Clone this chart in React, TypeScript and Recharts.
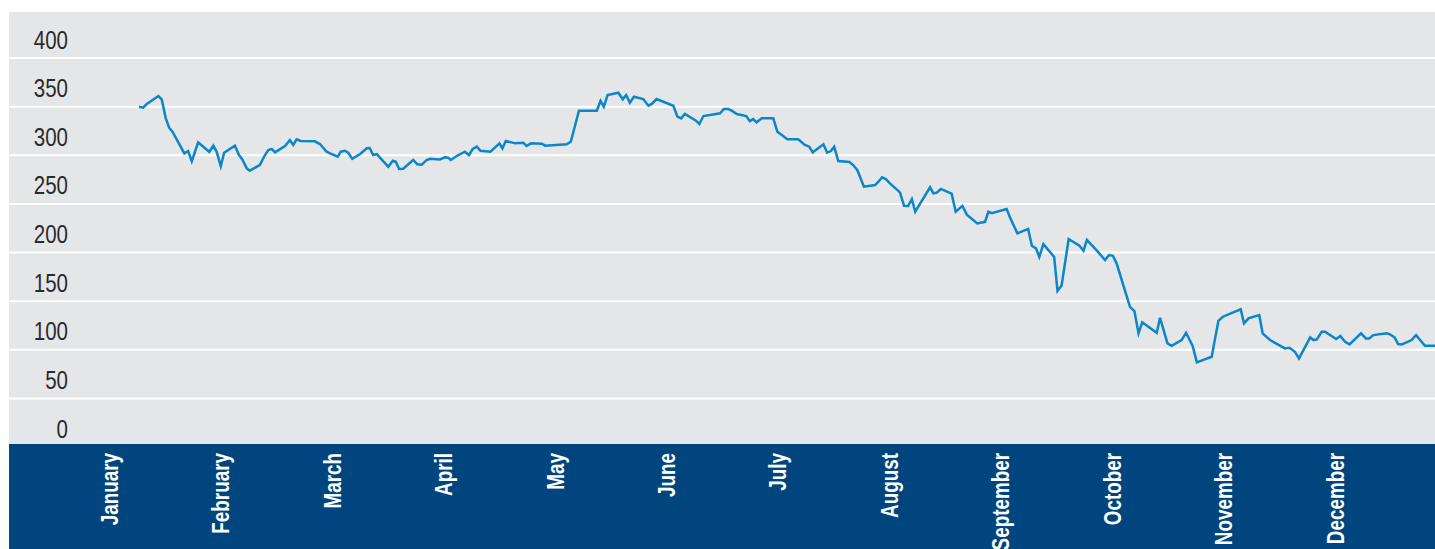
import { LineChart, Line, XAxis, YAxis, ReferenceLine } from 'recharts';

// day of year (30-day month units, January label at 0) and index level
const tradingDays = [
  7.3, 8.4, 9.3, 12.5, 13.4, 14.5, 15.4, 16.3, 19.5, 20.5,
  21.5, 23.2, 26.2, 27.3, 28.2, 29.3, 30.2, 33.1, 34.2, 35.1,
  36.3, 37.1, 39.8, 41.2, 42.1, 43.0, 43.9, 46.6, 47.9, 48.8,
  49.7, 50.8, 54.6, 56.0, 57.8, 58.7, 60.8, 61.6, 62.7, 63.6,
  64.7, 66.8, 68.6, 69.4, 70.3, 71.3, 73.0, 74.4, 75.6, 76.4,
  77.3, 78.4, 81.1, 82.2, 83.4, 84.7, 85.6, 88.3, 89.6, 90.5,
  91.2, 92.8, 95.0, 96.1, 97.1, 98.2, 99.2, 101.9, 104.3, 105.1,
  106.0, 108.5, 110.7, 111.6, 112.8, 115.7, 116.6, 122.4, 123.5, 125.7,
  130.5, 131.5, 132.4, 133.4, 136.3, 137.5, 138.4, 139.4, 140.5, 143.0,
  144.4, 145.3, 146.6, 151.1, 152.2, 153.2, 154.2, 157.2, 158.1, 159.2,
  163.7, 164.7, 165.9, 166.8, 168.2, 170.7, 171.7, 172.6, 173.5, 174.9,
  178.0, 179.1, 180.3, 181.8, 184.7, 186.5, 187.7, 188.6, 191.5, 192.5,
  193.5, 194.4, 195.5, 198.5, 199.5, 200.6, 202.4, 205.4, 206.3, 207.3,
  208.3, 209.4, 212.1, 213.2, 214.3, 215.3, 216.2, 220.2, 221.1, 222.0,
  223.1, 226.0, 227.1, 228.9, 230.1, 232.9, 235.0, 235.9, 236.8, 240.8,
  241.9, 243.7, 246.6, 247.6, 248.7, 249.6, 250.7, 253.6, 254.5, 255.6,
  257.5, 260.4, 261.5, 262.4, 265.1, 267.3, 268.4, 269.4, 270.4, 274.0,
  275.2, 276.3, 277.3, 281.2, 282.1, 283.0, 284.1, 285.2, 287.9, 289.1,
  290.9, 292.0, 296.0, 297.8, 299.0, 303.8, 304.7, 305.9, 308.8, 309.7,
  311.7, 315.7, 316.9, 318.4, 319.5, 322.5, 323.4, 324.3, 325.6, 326.5,
  329.5, 330.6, 331.9, 333.1, 336.2, 337.5, 338.4, 339.5, 343.1, 344.0,
  345.2, 346.2, 347.2, 349.8, 351.0, 353.4, 356.1,
];

const indexValues = [
  350, 349, 352.5, 361, 357.6, 338, 328.4, 324.3, 302, 304.4,
  294, 313.4, 303.6, 309.9, 303.6, 288.9, 302.7, 309.9, 300.3, 295.8,
  286.6, 284.2, 290, 300.3, 305.5, 306.5, 303, 309.6, 315.7, 310.6,
  316.5, 314.7, 314.4, 311.6, 303.7, 302, 298.6, 303.7, 304.7, 302.7,
  296.3, 301.3, 307.2, 307.5, 300.3, 301.3, 294, 288.3, 294.4, 293.4,
  285.9, 286.2, 295.2, 290.7, 290.3, 295.2, 296.5, 295.8, 297.9, 297.6,
  295.2, 299.3, 303.7, 300.3, 306.5, 308.9, 304.7, 303.7, 312.3, 307.2,
  314.7, 312.3, 313, 309.6, 312.3, 311.9, 309.9, 311.3, 314, 345.9,
  345.9, 355.9, 350, 362, 364.4, 357.6, 362, 354.1, 360.3, 357.9,
  351, 352.8, 357.9, 351, 339.8, 338, 342.5, 335.6, 332.2, 340.4,
  343.2, 347.6, 347.6, 345.9, 342.5, 340.4, 335.3, 337.3, 333.9, 338,
  338, 324.3, 320.9, 316.5, 316.5, 310.6, 308.9, 303.1, 311.3, 302.7,
  304.4, 308.9, 294.1, 293.1, 290, 284.9, 267.7, 269.4, 272.8, 277.3,
  275.6, 271.2, 261.9, 248.1, 247.8, 255, 242, 267.1, 260.9, 261.6,
  265.4, 260.5, 242, 248, 239, 230, 231.6, 242, 240.5, 244.8,
  234.5, 219.8, 224.3, 207, 204.3, 195.5, 208.7, 195.5, 160.5, 166,
  213.9, 207, 201.9, 212.9, 201.9, 192.3, 197.4, 196.7, 188.9, 144.2,
  139.8, 116.9, 128.2, 117.5, 132.9, 120.9, 106.6, 104.1, 110, 117.5,
  103.8, 87, 92.8, 129.8, 134, 141.6, 127.2, 132.3, 135.7, 116.9,
  110, 101.4, 102, 97.9, 91.1, 112.8, 110, 110.7, 118.5, 118.5,
  111, 114.1, 108.2, 105.5, 116.9, 111.7, 111.7, 115.1, 116.9, 115.8,
  112.8, 105.9, 105.5, 110, 115.1, 104.1, 104.1,
];

const months = [
  'January', 'February', 'March', 'April', 'May', 'June',
  'July', 'August', 'September', 'October', 'November', 'December',
];
const monthTicks = [0, 30, 60, 90, 120, 150, 180, 210, 240, 270, 300, 330];
const yTicks = [0, 50, 100, 150, 200, 250, 300, 350, 400];
const gridValues = [50, 100, 150, 200, 250, 300, 350, 400];

const data = tradingDays.map((t, i) => ({ t, value: indexValues[i] }));

const W = 1435;
const H = 549;
// Liberation Sans squeezed horizontally to mimic a narrow grotesque
const FONT = "'Liberation Sans', Arial, sans-serif";
const NARROW = 0.82;

function YTick(props: any) {
  const { y, payload } = props;
  return (
    <text
      transform={`translate(68,${y - 18.5}) scale(${NARROW},1)`}
      dy="0.36em"
      textAnchor="end"
      fill="#2a2a2a"
      fontSize={25}
      fontFamily={FONT}
    >
      {payload.value}
    </text>
  );
}

function MonthTick(props: any) {
  const { x, payload } = props;
  const label = months[monthTicks.indexOf(payload.value)];
  return (
    <text
      transform={`translate(${x - 2.5},453) rotate(-90) scale(${NARROW},1)`}
      dy="0.36em"
      textAnchor="end"
      fill="#ffffff"
      fontSize={23}
      fontWeight="bold"
      fontFamily={FONT}
    >
      {label}
    </text>
  );
}

export default function App() {
  return (
    <div style={{ position: 'absolute', left: 0, top: 0, width: W, height: H, background: '#fff', overflow: 'hidden' }}>
      <div style={{ position: 'absolute', left: 9, top: 12, width: W - 9, height: 432, background: '#e5e6e8' }} />
      <div style={{ position: 'absolute', left: 9, top: 444, width: W - 9, height: H - 444, background: '#00457d' }} />
      <div style={{ position: 'absolute', left: 0, top: 0 }}>
        <LineChart width={W} height={H} data={data} margin={{ top: 12, right: 0, bottom: 0, left: 8 }}>
          <XAxis
            dataKey="t"
            type="number"
            domain={[-27.7, 356.1]}
            ticks={monthTicks}
            interval={0}
            height={102}
            axisLine={false}
            tickLine={false}
            tick={<MonthTick />}
          />
          <YAxis
            type="number"
            domain={[0, 447.4]}
            ticks={yTicks}
            interval={0}
            width={1}
            axisLine={false}
            tickLine={false}
            tick={<YTick />}
          />
          {gridValues.map((v) => (
            <ReferenceLine key={v} y={v} stroke="#ffffff" strokeWidth={2} />
          ))}
          <Line
            type="linear"
            dataKey="value"
            stroke="#0a86c9"
            strokeWidth={2.5}
            dot={false}
            isAnimationActive={false}
          />
        </LineChart>
      </div>
    </div>
  );
}
